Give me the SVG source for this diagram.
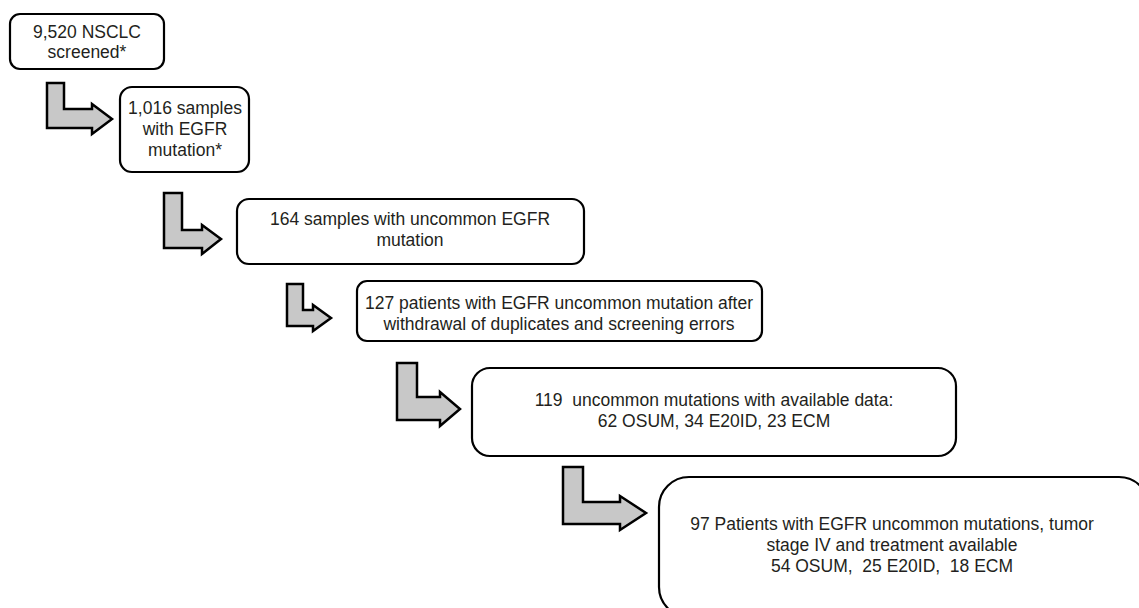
<svg xmlns="http://www.w3.org/2000/svg" width="1139" height="608" viewBox="0 0 1139 608">
<style>
.box{fill:#fff;stroke:#000;stroke-width:2.2}
.arr{fill:#c8c8c8;stroke:#000;stroke-width:2.5;stroke-linejoin:miter}
text{font-family:"Liberation Sans",Arial,sans-serif;font-size:17.5px;fill:#231f20;text-anchor:middle;white-space:pre}
</style>
<rect width="1139" height="608" fill="#fff"/>
<g id="connectors">
<path class="arr" d="M47,83 H64 V109 H92 V104 L112,119 L92,134 V128 H47 Z"/>
<path class="arr" d="M164,193 H182 V230 H202 V225 L221,239 L202,254 V248 H164 Z"/>
<path class="arr" d="M287,284 H303 V310 H313 V305 L331,318 L313,331 V326 H287 Z"/>
<path class="arr" d="M397,363 H417 V397 H440 V392 L460,409 L440,426 V420 H397 Z"/>
<path class="arr" d="M563,467 H583 V502 H620 V496 L646,513 L620,530 V524 H563 Z"/>
</g>
<g id="n1"><rect class="box" x="10" y="14" width="154" height="55" rx="10"/>
<text x="87" y="38">9,520 NSCLC</text><text x="87" y="58">screened*</text></g>
<g id="n2"><rect class="box" x="120" y="87" width="129" height="85" rx="12"/>
<text x="185" y="114">1,016 samples</text><text x="185" y="135">with EGFR</text><text x="185" y="156">mutation*</text></g>
<g id="n3"><rect class="box" x="237" y="199" width="347" height="65" rx="12"/>
<text x="410" y="225">164 samples with uncommon EGFR</text><text x="410" y="246">mutation</text></g>
<g id="n4"><rect class="box" x="357" y="281" width="405" height="60" rx="10"/>
<text x="559" y="309">127 patients with EGFR uncommon mutation after</text><text x="559" y="330">withdrawal of duplicates and screening errors</text></g>
<g id="n5"><rect class="box" x="472" y="368" width="484" height="88" rx="18"/>
<text x="714" y="406" xml:space="preserve">119  uncommon mutations with available data:</text><text x="714" y="427">62 OSUM, 34 E20ID, 23 ECM</text></g>
<g id="n6"><rect class="box" x="659" y="477" width="490" height="140" rx="30"/>
<text x="892" y="530">97 Patients with EGFR uncommon mutations, tumor</text><text x="892" y="551">stage IV and treatment available</text><text x="892" y="572" xml:space="preserve">54 OSUM,  25 E20ID,  18 ECM</text></g>
</svg>
